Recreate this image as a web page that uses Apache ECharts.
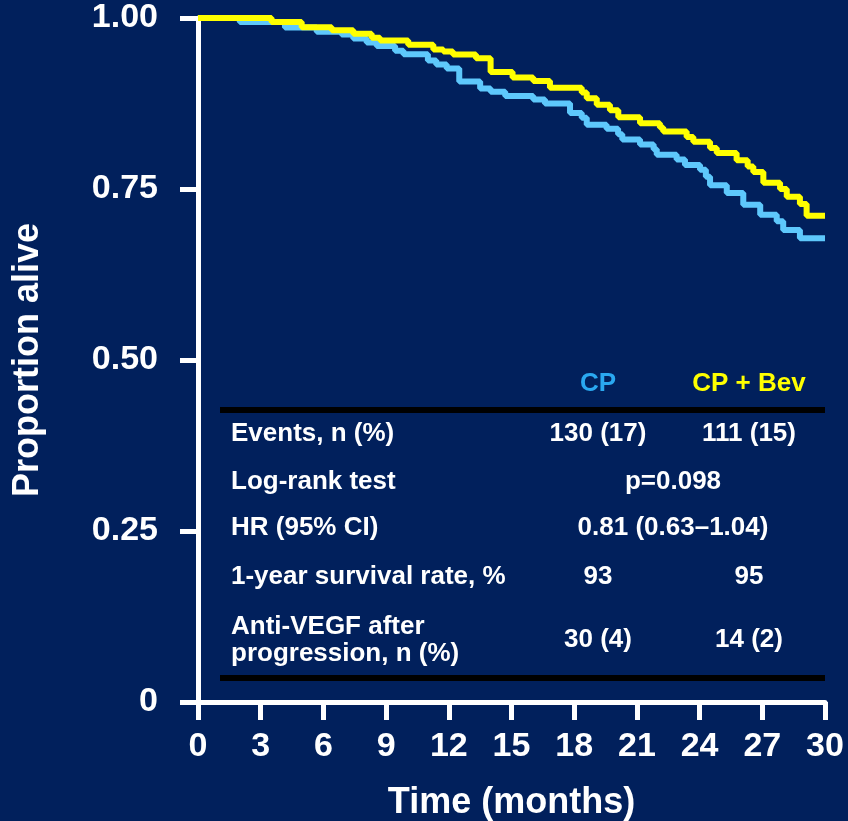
<!DOCTYPE html>
<html>
<head>
<meta charset="utf-8">
<script src="https://cdn.jsdelivr.net/npm/echarts@6/dist/echarts.min.js"></script>
<style>
html,body{margin:0;padding:0;background:#01205c;}
#chart{width:848px;height:821px;}
</style>
</head>
<body>
<div id="chart"></div>
<script>
// Kaplan-Meier step points [months, proportion alive]
const cpCurve = [
  [0,1.0],[2.0,0.994],[4.16,0.986],[5.68,0.980],[6.87,0.976],[7.43,0.970],[8.07,0.964],
  [8.55,0.959],[9.43,0.952],[9.83,0.947],[11.0,0.938],[11.4,0.932],[11.9,0.926],
  [12.5,0.907],[13.5,0.897],[14.0,0.892],[14.7,0.886],[16.04,0.881],[16.6,0.875],
  [17.8,0.861],[18.36,0.854],[18.6,0.844],[19.55,0.838],[20.1,0.830],[20.3,0.8225],
  [21.15,0.815],[21.8,0.808],[21.95,0.800],[22.9,0.793],[23.3,0.785],[24.02,0.778],
  [24.3,0.768],[24.5,0.7555],[25.3,0.744],[26.09,0.727],[26.9,0.7125],[27.69,0.703],
  [28.0,0.690],[28.8,0.678],[30,0.678]
];
const bevCurve = [
  [0,1.0],[3.52,0.994],[4.96,0.9865],[6.4,0.982],[7.43,0.977],[8.31,0.971],[8.71,0.967],
  [10.06,0.961],[11.26,0.954],[11.74,0.951],[12.2,0.9465],[13.3,0.941],[14.0,0.921],
  [15.05,0.913],[16.04,0.908],[16.84,0.898],[18.36,0.891],[18.6,0.8825],[19.08,0.873],
  [19.71,0.865],[20.11,0.855],[21.15,0.846],[22.1,0.840],[22.26,0.834],[23.38,0.826],
  [23.7,0.819],[24.5,0.810],[24.82,0.8025],[25.77,0.792],[26.3,0.783],[26.57,0.775],
  [27.05,0.759],[27.85,0.750],[28.17,0.7385],[28.8,0.728],[29.12,0.711],[30,0.711]
];
const seriesNames = ['CP','CP + Bev'];
const xTicks = [0,3,6,9,12,15,18,21,24,27,30];
const yTicks = [0,0.25,0.5,0.75,1.0];
const tableRows = [
  ['Events, n (%)','130 (17)','111 (15)'],
  ['Log-rank test','p=0.098',null],
  ['HR (95% CI)','0.81 (0.63\u20131.04)',null],
  ['1-year survival rate, %','93','95'],
  ['Anti-VEGF after\nprogression, n (%)','30 (4)','14 (2)']
];

const FONT = '"Liberation Sans", Arial, Helvetica, sans-serif';
const chart = echarts.init(document.getElementById('chart'));

const rowY = [434, 482, 528, 577, 640];
const colCP = 598, colBev = 749, colMid = 673, colLabel = 231;
const TF = 'bold 26px ' + FONT;
const graphics = [
  {type:'rect', shape:{x:220,y:407,width:605,height:6}, style:{fill:'#000000'}, z:10},
  {type:'rect', shape:{x:220,y:675,width:605,height:6}, style:{fill:'#000000'}, z:10},
  {type:'text', x:colCP, y:384, style:{text:seriesNames[0], fill:'#2aa8f0', font:TF, align:'center', verticalAlign:'middle'}, z:10},
  {type:'text', x:colBev, y:384, style:{text:seriesNames[1], fill:'#ffff00', font:TF, align:'center', verticalAlign:'middle'}, z:10}
];
tableRows.forEach((r,i)=>{
  graphics.push({type:'text', x:colLabel, y:rowY[i], style:{text:r[0], fill:'#ffffff', font:TF, align:'left', verticalAlign:'middle', lineHeight:27}, z:10});
  if (r[2] === null) {
    graphics.push({type:'text', x:colMid, y:rowY[i], style:{text:r[1], fill:'#ffffff', font:TF, align:'center', verticalAlign:'middle'}, z:10});
  } else {
    graphics.push({type:'text', x:colCP, y:rowY[i], style:{text:r[1], fill:'#ffffff', font:TF, align:'center', verticalAlign:'middle'}, z:10});
    graphics.push({type:'text', x:colBev, y:rowY[i], style:{text:r[2], fill:'#ffffff', font:TF, align:'center', verticalAlign:'middle'}, z:10});
  }
});

chart.setOption({
  backgroundColor:'#01205c',
  animation:false,
  grid:{left:198, right:23, top:18, bottom:119, containLabel:false, outerBoundsMode:'none'},
  xAxis:{
    type:'value', min:0, max:30, interval:3,
    name:'Time (months)', nameLocation:'middle', nameGap:83,
    nameTextStyle:{color:'#ffffff', fontSize:36, fontWeight:'bold', fontFamily:FONT},
    axisLine:{show:true, lineStyle:{color:'#ffffff', width:5}},
    axisTick:{show:true, length:18, lineStyle:{color:'#ffffff', width:5}},
    axisLabel:{color:'#ffffff', fontSize:34, fontWeight:'bold', fontFamily:FONT, margin:28,
      formatter:v=>xTicks.includes(v)?String(v):''},
    splitLine:{show:false}
  },
  yAxis:{
    type:'value', min:0, max:1, interval:0.25,
    name:'Proportion alive', nameLocation:'middle', nameGap:152,
    nameTextStyle:{color:'#ffffff', fontSize:36, fontWeight:'bold', fontFamily:FONT},
    axisLine:{show:true, lineStyle:{color:'#ffffff', width:5}},
    axisTick:{show:true, length:18, lineStyle:{color:'#ffffff', width:5}},
    axisLabel:{color:'#ffffff', fontSize:34, fontWeight:'bold', fontFamily:FONT, margin:40,
      formatter:v=>v===0?'0':v.toFixed(2)},
    splitLine:{show:false}
  },
  series:[
    {name:seriesNames[0], type:'line', step:'end', data:cpCurve, showSymbol:false, symbol:'none',
      lineStyle:{color:'#5ec8fc', width:6}, z:2},
    {name:seriesNames[1], type:'line', step:'end', data:bevCurve, showSymbol:false, symbol:'none',
      lineStyle:{color:'#ffff00', width:6}, z:3}
  ],
  graphic:graphics
});
</script>
</body>
</html>
